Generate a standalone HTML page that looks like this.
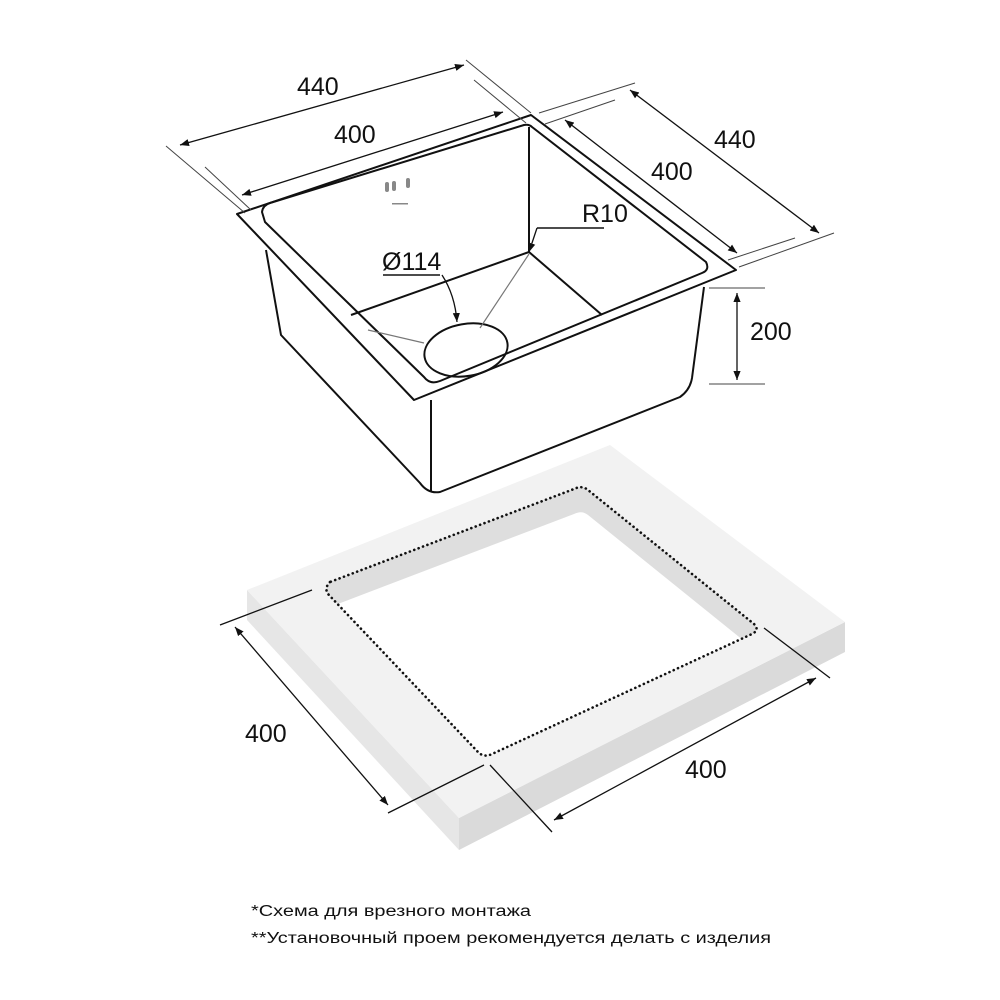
<!DOCTYPE html>
<html><head><meta charset="utf-8"><style>html,body{margin:0;padding:0;background:#fff}svg{display:block}</style></head>
<body>
<svg width="1000" height="1000" viewBox="0 0 1000 1000" xmlns="http://www.w3.org/2000/svg">
<defs>
<marker id="a" viewBox="0 0 10 10" refX="10" refY="5" markerWidth="9" markerHeight="9" orient="auto-start-reverse" markerUnits="userSpaceOnUse"><path d="M0,1 L10,5 L0,9 Z" fill="#111"/></marker>
<clipPath id="hc"><path d="M330,582 Q324,588 328,594 L478,752 Q484,758 492,754 L752,634 Q760,630 754,624 L588,490 Q582,485 574,489 Z"/></clipPath>
</defs>
<polygon points="247,590 459,818 459,850 247,620" fill="#e6e6e6"/>
<polygon points="459,818 845,622 845,652 459,850" fill="#dadada"/>
<polygon points="247,590 610,445 845,622 459,818" fill="#f2f2f2"/>
<g clip-path="url(#hc)">
<rect x="300" y="470" width="480" height="300" fill="#dedede"/>
<path d="M330,607 Q324,613 328,619 L478,777 Q484,783 492,779 L752,659 Q760,655 754,649 L588,515 Q582,510 574,514 Z" fill="#fff"/>
</g>
<path d="M330,582 Q324,588 328,594 L478,752 Q484,758 492,754 L752,634 Q760,630 754,624 L588,490 Q582,485 574,489 Z" fill="none" stroke="#111" stroke-width="2.6" stroke-dasharray="0.1 4.6" stroke-linecap="round"/>
<g fill="none" stroke="#111" stroke-width="2" stroke-linejoin="round">
<path d="M266,250 L281,335 L420,483 Q428,494 440,492 L680,397 Q690,390 692,378 L704,287"/>
<line x1="431" y1="400" x2="431" y2="491"/>
<path d="M237,214 L531,115 L736,270 L414,400 Z" fill="#fff"/>
<path d="M262,212 Q263,205 270,203 L524,125 Q529,124 532,127 L706,262 Q710,270 702,273 L440,381 Q430,385 424,377 L265,222 Z"/>
<line x1="529" y1="127" x2="529" y2="252"/>
<line x1="529" y1="252" x2="351" y2="315"/>
<line x1="529" y1="252" x2="602" y2="315"/>
<ellipse cx="466" cy="350" rx="42" ry="26" transform="rotate(-10 466 350)"/>
</g>
<g stroke="#777" stroke-width="1.2" fill="none">
<line x1="529" y1="254" x2="480" y2="328"/>
<line x1="368" y1="330" x2="424" y2="343"/>
</g>
<g fill="#888"><rect x="385" y="182" width="4" height="10" rx="2"/><rect x="392" y="181" width="4" height="10" rx="2"/><rect x="406" y="178" width="4" height="10" rx="2"/><rect x="392" y="203" width="16" height="1.5"/></g>
<g stroke="#111" stroke-width="1.3" fill="none">
<line x1="180" y1="145" x2="464" y2="65" marker-start="url(#a)" marker-end="url(#a)"/>
<line x1="242" y1="195" x2="503" y2="112" marker-start="url(#a)" marker-end="url(#a)"/>
<line x1="630" y1="90" x2="819" y2="233" marker-start="url(#a)" marker-end="url(#a)"/>
<line x1="565" y1="120" x2="737" y2="253" marker-start="url(#a)" marker-end="url(#a)"/>
<line x1="737" y1="293" x2="737" y2="380" marker-start="url(#a)" marker-end="url(#a)"/>
<line x1="235" y1="627" x2="388" y2="805" marker-start="url(#a)" marker-end="url(#a)"/>
<line x1="554" y1="820" x2="816" y2="678" marker-start="url(#a)" marker-end="url(#a)"/>
<line x1="537" y1="228" x2="604" y2="228" stroke-width="1.6"/>
<line x1="383" y1="275" x2="440" y2="275" stroke-width="1.6"/>
<line x1="537" y1="228" x2="529" y2="252" marker-end="url(#a)"/>
<path d="M442,275 Q455,295 457,322" marker-end="url(#a)"/>
</g>
<g stroke="#444" stroke-width="1" fill="none">
<line x1="166" y1="146" x2="245" y2="213"/>
<line x1="466" y1="60" x2="531" y2="113"/>
<line x1="205" y1="167" x2="251" y2="210"/>
<line x1="474" y1="80" x2="526" y2="123"/>
<line x1="539" y1="113" x2="635" y2="83"/>
<line x1="739" y1="267" x2="834" y2="233"/>
<line x1="545" y1="124" x2="615" y2="100"/>
<line x1="728" y1="260" x2="795" y2="238"/>
<line x1="709" y1="288" x2="765" y2="288"/>
<line x1="709" y1="384" x2="765" y2="384"/>
</g>
<g stroke="#111" stroke-width="1.3">
<line x1="220" y1="625" x2="312" y2="590"/>
<line x1="388" y1="813" x2="484" y2="765"/>
<line x1="490" y1="765" x2="552" y2="832"/>
<line x1="764" y1="628" x2="830" y2="678"/>
</g>
<g font-family="Liberation Sans, sans-serif" font-size="25" fill="#111">
<text x="297" y="95">440</text>
<text x="334" y="143">400</text>
<text x="714" y="148">440</text>
<text x="651" y="180">400</text>
<text x="750" y="340">200</text>
<text x="582" y="222">R10</text>
<text x="382" y="270">Ø114</text>
<text x="245" y="742">400</text>
<text x="685" y="778">400</text>
</g>
<g font-family="Liberation Sans, 'DejaVu Sans', sans-serif" font-size="15.5" fill="#111">
<text x="251" y="916" textLength="280" lengthAdjust="spacingAndGlyphs">*Схема для врезного монтажа</text>
<text x="251" y="943" textLength="520" lengthAdjust="spacingAndGlyphs">**Установочный проем рекомендуется делать с изделия</text>
</g>
</svg>
</body></html>
